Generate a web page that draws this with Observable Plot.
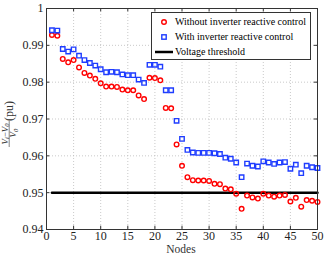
<!DOCTYPE html>
<html><head><meta charset="utf-8">
<script src="https://cdn.jsdelivr.net/npm/d3@7"></script>
<script src="https://cdn.jsdelivr.net/npm/@observablehq/plot@0.6"></script>
<style>
body{margin:0;background:#fff;}
#wrap{position:relative;width:326px;height:256px;font-family:"Liberation Serif",serif;}
#legend{position:absolute;left:151px;top:12px;width:160px;height:48px;border:1px solid #333;background:#fff;font-size:10px;box-sizing:border-box;}
#legend .row{position:absolute;left:0;height:14px;line-height:14px;white-space:nowrap;}
#legend svg{position:absolute;left:0;top:0;}
#legend span{position:absolute;left:23px;top:0;}
</style></head><body>
<div id="wrap"></div>
<script>
const nodes = d3.range(1, 51);
const without = [0.9928,0.9926,0.9863,0.9854,0.9860,0.9840,0.9825,0.9818,0.9809,0.9797,
0.9788,0.9788,0.9787,0.9780,0.9778,0.9778,0.9764,0.9754,0.9812,0.9811,
0.9805,0.9730,0.9729,0.9631,0.9573,0.9542,0.9534,0.9533,0.9533,0.9532,
0.9524,0.9523,0.9511,0.9509,0.9497,0.9456,0.9492,0.9487,0.9484,0.9497,
0.9492,0.9489,0.9492,0.9494,0.9476,0.9486,0.9462,0.9480,0.9478,0.9475];
const withCtrl = [0.9941,0.9940,0.9890,0.9883,0.9889,0.9872,0.9860,0.9852,0.9845,0.9835,
0.9827,0.9828,0.9827,0.9821,0.9819,0.9819,0.9807,0.9798,0.9847,0.9847,
0.9842,0.9778,0.9778,0.9695,0.9646,0.9616,0.9609,0.9608,0.9608,0.9608,
0.9607,0.9605,0.9595,0.9592,0.9582,0.9542,0.9579,0.9573,0.9571,0.9585,
0.9582,0.9578,0.9582,0.9583,0.9565,0.9576,0.9553,0.9573,0.9569,0.9567];
const threshold = 0.95;
const xTicks = [0,5,10,15,20,25,30,35,40,45,50];
const yTicks = [0.94,0.95,0.96,0.97,0.98,0.99,1];
const yTickLabels = ["0.94","0.95","0.96","0.97","0.98","0.99","1"];
const legendLabels = ["Without inverter reactive control","With inverter reactive control","Voltage threshold"];
const xLabel = "Nodes";

const red = "#ff0000", blue = "#1f3dff";
const dWithout = nodes.map((n,i)=>({n, v: without[i]}));
const dWith = nodes.map((n,i)=>({n, v: withCtrl[i]}));
const dThr = nodes.map(n=>({n, v: threshold}));

const chart = Plot.plot({
  width: 326, height: 256,
  marginLeft: 46, marginRight: 9, marginTop: 8, marginBottom: 27,
  style: {fontFamily: '"Liberation Serif", serif', fontSize: "12px", background: "#fff", color: "#222"},
  x: {domain: [0,50]},
  y: {domain: [0.94,1]},
  marks: [
    Plot.ruleX(xTicks, {x: d=>d, stroke: "#bbb", strokeDasharray: "1,2", strokeWidth: 0.8}),
    Plot.ruleY(yTicks, {y: d=>d, stroke: "#bbb", strokeDasharray: "1,2", strokeWidth: 0.8}),
    Plot.ruleX(xTicks, {x: d=>d, y1: 0.94, y2: 0.9409, stroke: "#333"}),
    Plot.ruleX(xTicks, {x: d=>d, y1: 1, y2: 0.9991, stroke: "#333"}),
    Plot.ruleY(yTicks, {y: d=>d, x1: 0, x2: 0.6, stroke: "#333"}),
    Plot.ruleY(yTicks, {y: d=>d, x1: 50, x2: 49.4, stroke: "#333"}),
    Plot.axisX({ticks: xTicks, tickSize: 0, tickPadding: 2, label: null, fontSize: 12}),
    Plot.axisY({ticks: yTicks, tickSize: 0, tickPadding: 3, label: null, fontSize: 12,
      tickFormat: d => yTickLabels[yTicks.indexOf(d)] ?? d}),
    Plot.lineY(dThr, {x: "n", y: "v", stroke: "#000", strokeWidth: 2.5}),
    Plot.dot(dWithout, {x: "n", y: "v", r: 2.3, stroke: red, strokeWidth: 1.4, fill: "none"}),
    Plot.dot(dWith, {x: "n", y: "v", symbol: "square", r: 2.5, stroke: blue, strokeWidth: 1.4, fill: "none"}),
    Plot.frame({stroke: "#333"})
  ]
});
document.getElementById("wrap").appendChild(chart);

const svg = d3.select(chart);
svg.append("text").attr("x", 181).attr("y", 253).attr("text-anchor","middle")
  .attr("font-size", 11.5).attr("fill","#333").text(xLabel);
const g = svg.append("g").attr("transform","translate(9.5,118) rotate(-90)")
  .attr("fill","#333").attr("font-family",'"Liberation Serif", serif');
const num = g.append("text").attr("x",-16).attr("y",-2).attr("text-anchor","middle").attr("font-size",9).attr("font-style","italic");
num.append("tspan").text("V");
num.append("tspan").attr("font-size",6.5).attr("dy",1.5).text("i");
num.append("tspan").attr("dy",-1.5).attr("font-style","normal").text("−");
num.append("tspan").text("V");
num.append("tspan").attr("font-size",6.5).attr("dy",1.5).text("0");
g.append("line").attr("x1",-29).attr("x2",-3).attr("y1",-0.3).attr("y2",-0.3).attr("stroke","#333").attr("stroke-width",0.6);
const den = g.append("text").attr("x",-15).attr("y",6.5).attr("text-anchor","middle").attr("font-size",9).attr("font-style","italic");
den.append("tspan").text("V");
den.append("tspan").attr("font-size",6.5).attr("dy",1.5).text("0");
g.append("text").attr("x",7).attr("y",3).attr("font-size",12).text("(pu)");

// legend
const leg = document.createElement("div");
leg.id = "legend";
const rows = [
  {y: 2, sym: `<circle cx="12" cy="7" r="2.3" fill="none" stroke="${red}" stroke-width="1.4"/>`},
  {y: 17, sym: `<rect x="9.8" y="4.8" width="4.4" height="4.4" fill="none" stroke="${blue}" stroke-width="1.4"/>`},
  {y: 32, sym: `<line x1="3" x2="21" y1="7" y2="7" stroke="#000" stroke-width="2.5"/>`}
];
rows.forEach((r,i)=>{
  const d = document.createElement("div");
  d.className = "row"; d.style.top = r.y + "px";
  d.innerHTML = `<svg width="24" height="14">${r.sym}</svg><span>${legendLabels[i]}</span>`;
  leg.appendChild(d);
});
document.getElementById("wrap").appendChild(leg);
</script>
</body></html>
